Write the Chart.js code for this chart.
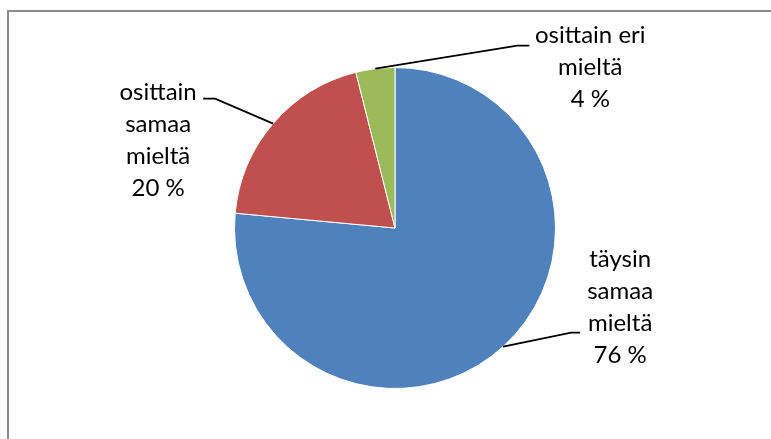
<!DOCTYPE html>
<html>
<head>
<meta charset="utf-8">
<script src="https://cdn.jsdelivr.net/npm/chart.js@4"></script>
<style>
  html, body { margin: 0; padding: 0; background: #fff; }
  #wrap { position: relative; width: 771px; height: 439px; }
</style>
</head>
<body>
<div id="wrap"><canvas id="pie"></canvas></div>
<script>
// answers (counts), Excel-style order: starts at 12 o'clock, clockwise
const labels = [['täysin', 'samaa', 'mieltä'], ['osittain', 'samaa', 'mieltä'], ['osittain eri', 'mieltä']];
const counts = [39, 10, 2];
const colors = ['#4F81BD', '#C0504D', '#9BBB59'];

// leader line / label placement, relative to the slice edge point
const leaders = [
  { dx: 68, dy: -14, tail: 9, tx: 49, ty: -73 },
  { dx: -58, dy: -25, tail: -12, tx: -57, ty: -6 },
  { dx: 142, dy: -23, tail: 12, tx: 73, ty: -10 }
];

const total = counts.reduce((a, b) => a + b, 0);
const FONT = '24px Lato, "Liberation Sans", sans-serif';
const LINE_H = 32;

const frame = {
  id: 'frame',
  beforeDraw(chart) {
    const c = chart.ctx;
    c.save();
    c.strokeStyle = '#8a8a8a';
    c.lineWidth = 2;
    c.strokeRect(8, 11, 820, 500);
    c.restore();
  }
};

const leaderLabels = {
  id: 'leaderLabels',
  afterDatasetsDraw(chart) {
    const c = chart.ctx;
    const arcs = chart.getDatasetMeta(0).data;
    c.save();
    c.font = FONT;
    c.fillStyle = '#000';
    c.strokeStyle = '#000';
    c.lineWidth = 1.8;
    c.textAlign = 'center';
    c.textBaseline = 'middle';
    arcs.forEach((arc, i) => {
      const p = arc.getProps(['x', 'y', 'startAngle', 'endAngle', 'outerRadius'], true);
      const mid = (p.startAngle + p.endAngle) / 2;
      const ex = p.x + Math.cos(mid) * p.outerRadius;
      const ey = p.y + Math.sin(mid) * p.outerRadius;
      const L = leaders[i];
      const bx = ex + L.dx, by = ey + L.dy;
      c.beginPath();
      c.moveTo(ex, ey);
      c.lineTo(bx, by);
      c.lineTo(bx + L.tail, by);
      c.stroke();
      const lines = labels[i].concat([Math.round(counts[i] / total * 100) + ' %']);
      lines.forEach((t, k) => c.fillText(t, bx + L.tx, by + L.ty + k * LINE_H));
    });
    c.restore();
  }
};

new Chart(document.getElementById('pie'), {
  type: 'pie',
  data: {
    labels: labels.map(l => l.join(' ')),
    datasets: [{
      data: counts,
      backgroundColor: colors,
      borderColor: '#ffffff',
      borderWidth: 1
    }]
  },
  options: {
    responsive: true,
    maintainAspectRatio: false,
    animation: false,
    layout: { padding: { top: 67, bottom: 50, left: 100, right: 81 } },
    plugins: {
      legend: { display: false },
      tooltip: { enabled: false }
    }
  },
  plugins: [frame, leaderLabels]
});
</script>
</body>
</html>
